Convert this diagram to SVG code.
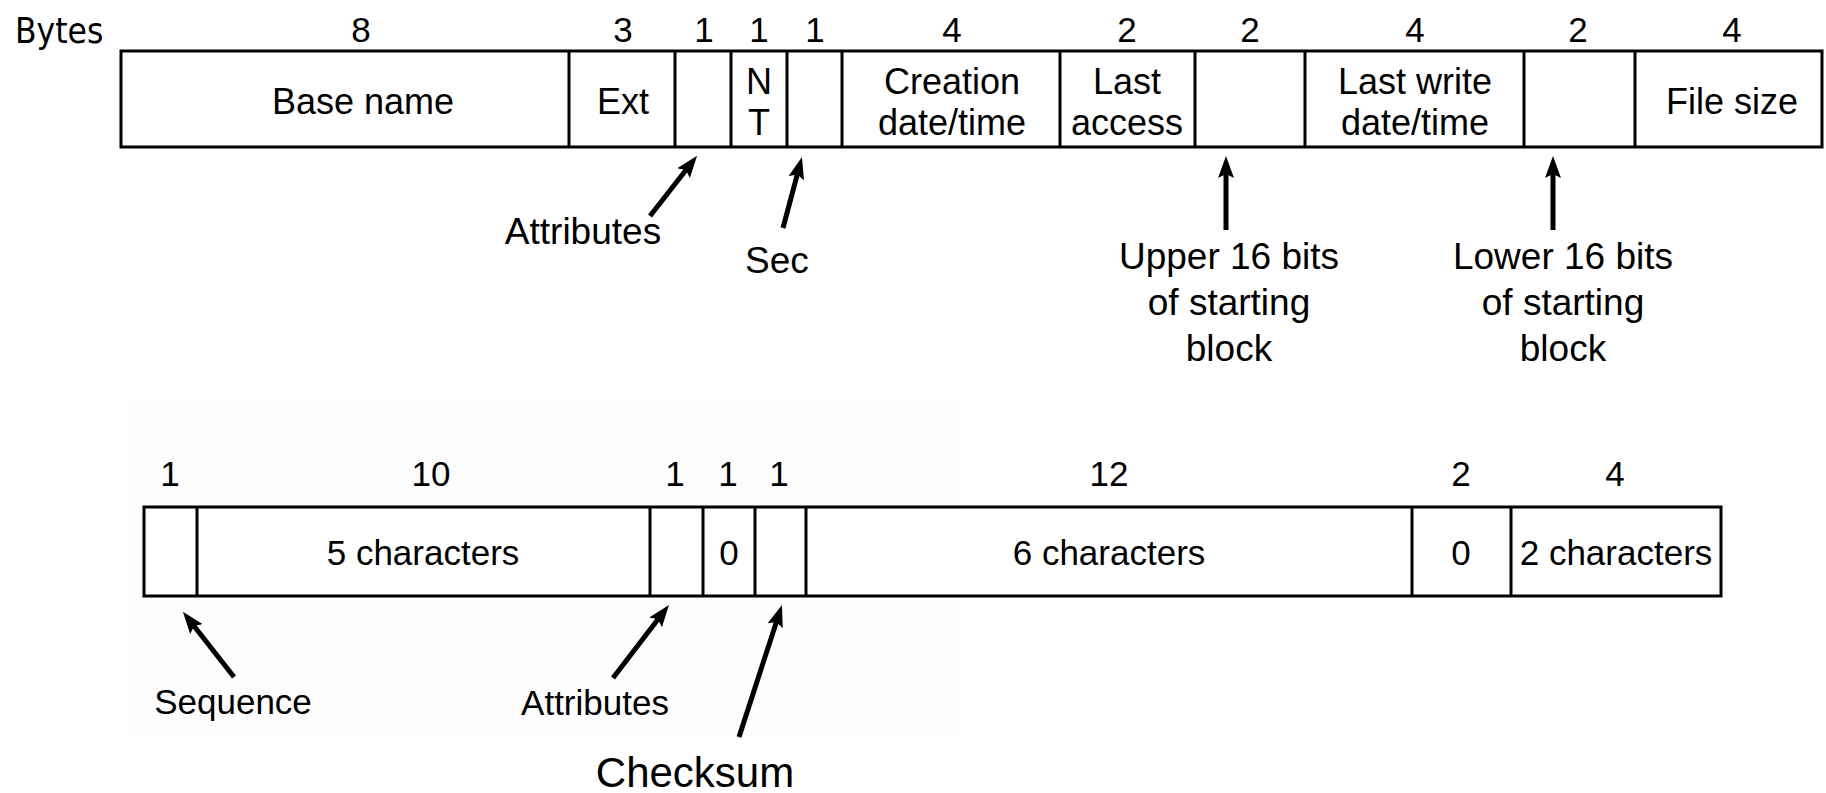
<svg xmlns="http://www.w3.org/2000/svg" width="1826" height="793" viewBox="0 0 1826 793">
  <style>
    text { font-family: "Liberation Sans", Arial, sans-serif; fill: #000; text-anchor: middle; }
    .num { font-size: 35px; }
    .cell { font-size: 36px; }
    .cell2 { font-size: 35px; }
    .lbl { font-size: 37px; }
    .lbl2 { font-size: 35px; }
    .big { font-size: 42px; }
    .bytes { font-family: "DejaVu Sans Condensed", "DejaVu Sans", sans-serif; font-stretch: condensed; font-size: 35px; text-anchor: start; }
    .box { fill: #fff; stroke: #000; stroke-width: 3; }
    .div { stroke: #000; stroke-width: 3; }
    .arrow { stroke: #000; stroke-width: 5; fill: none; marker-end: url(#ah); }
  </style>
  <defs>
    <marker id="ah" viewBox="0 0 22 16" refX="4" refY="8" markerWidth="22" markerHeight="16" orient="auto" markerUnits="userSpaceOnUse">
      <path d="M0,0 L22,8 L0,16 L4,8 z" fill="#000"/>
    </marker>
  </defs>

  <rect width="1826" height="793" fill="#fff"/>
  <!-- faint backdrop behind the long-name entry -->
  <rect x="128" y="400" width="832" height="338" fill="#fdfdfd"/>

  <!-- ===== Short (8.3) directory entry ===== -->
  <g id="short-entry">
    <text class="bytes" x="15" y="43">Bytes</text>
    <g id="short-sizes" class="num">
      <text x="361" y="42">8</text>
      <text x="623" y="42">3</text>
      <text x="704" y="42">1</text>
      <text x="759" y="42">1</text>
      <text x="815" y="42">1</text>
      <text x="952" y="42">4</text>
      <text x="1127" y="42">2</text>
      <text x="1250" y="42">2</text>
      <text x="1415" y="42">4</text>
      <text x="1578" y="42">2</text>
      <text x="1732" y="42">4</text>
    </g>
    <rect class="box" x="121" y="51" width="1701" height="96"/>
    <g id="short-dividers">
      <line class="div" x1="569" y1="51" x2="569" y2="147"/>
      <line class="div" x1="675" y1="51" x2="675" y2="147"/>
      <line class="div" x1="731" y1="51" x2="731" y2="147"/>
      <line class="div" x1="787" y1="51" x2="787" y2="147"/>
      <line class="div" x1="842" y1="51" x2="842" y2="147"/>
      <line class="div" x1="1060" y1="51" x2="1060" y2="147"/>
      <line class="div" x1="1195" y1="51" x2="1195" y2="147"/>
      <line class="div" x1="1305" y1="51" x2="1305" y2="147"/>
      <line class="div" x1="1524" y1="51" x2="1524" y2="147"/>
      <line class="div" x1="1635" y1="51" x2="1635" y2="147"/>
    </g>
    <g id="f-basename"><text class="cell" x="363" y="114">Base name</text></g>
    <g id="f-ext"><text class="cell" x="623" y="114">Ext</text></g>
    <g id="f-nt"><text class="cell" x="759" y="94">N</text><text class="cell" x="759" y="135">T</text></g>
    <g id="f-creation"><text class="cell" x="952" y="94">Creation</text><text class="cell" x="952" y="135">date/time</text></g>
    <g id="f-lastaccess"><text class="cell" x="1127" y="94">Last</text><text class="cell" x="1127" y="135">access</text></g>
    <g id="f-lastwrite"><text class="cell" x="1415" y="94">Last write</text><text class="cell" x="1415" y="135">date/time</text></g>
    <g id="f-filesize"><text class="cell" x="1732" y="114">File size</text></g>

    <g id="lbl-attributes"><text class="lbl" x="583" y="244">Attributes</text></g>
    <g id="lbl-sec"><text class="lbl" x="777" y="273">Sec</text></g>
    <g id="lbl-upper">
      <text class="lbl" x="1229" y="269">Upper 16 bits</text>
      <text class="lbl" x="1229" y="315">of starting</text>
      <text class="lbl" x="1229" y="361">block</text>
    </g>
    <g id="lbl-lower">
      <text class="lbl" x="1563" y="269">Lower 16 bits</text>
      <text class="lbl" x="1563" y="315">of starting</text>
      <text class="lbl" x="1563" y="361">block</text>
    </g>
  </g>

  <!-- ===== Long-name directory entry ===== -->
  <g id="long-entry">
    <g id="long-sizes" class="num">
      <text x="170" y="486">1</text>
      <text x="431" y="486">10</text>
      <text x="675" y="486">1</text>
      <text x="728" y="486">1</text>
      <text x="779" y="486">1</text>
      <text x="1109" y="486">12</text>
      <text x="1461" y="486">2</text>
      <text x="1615" y="486">4</text>
    </g>
    <rect class="box" x="144" y="507" width="1577" height="89"/>
    <g id="long-dividers">
      <line class="div" x1="197" y1="507" x2="197" y2="596"/>
      <line class="div" x1="650" y1="507" x2="650" y2="596"/>
      <line class="div" x1="703" y1="507" x2="703" y2="596"/>
      <line class="div" x1="755" y1="507" x2="755" y2="596"/>
      <line class="div" x1="806" y1="507" x2="806" y2="596"/>
      <line class="div" x1="1412" y1="507" x2="1412" y2="596"/>
      <line class="div" x1="1511" y1="507" x2="1511" y2="596"/>
    </g>
    <g id="f-chars5"><text class="cell2" x="423" y="565">5 characters</text></g>
    <g id="f-zero1"><text class="cell2" x="729" y="565">0</text></g>
    <g id="f-chars6"><text class="cell2" x="1109" y="565">6 characters</text></g>
    <g id="f-zero2"><text class="cell2" x="1461" y="565">0</text></g>
    <g id="f-chars2"><text class="cell2" x="1616" y="565">2 characters</text></g>

    <g id="lbl-sequence"><text class="lbl2" x="233" y="714">Sequence</text></g>
    <g id="lbl-attributes2"><text class="lbl2" x="595" y="715">Attributes</text></g>
    <g id="lbl-checksum"><text class="big" x="695" y="787">Checksum</text></g>
  </g>

  <!-- ===== Pointer arrows ===== -->
  <g id="connectors">
    <line class="arrow" x1="650" y1="216" x2="686" y2="170"/>
    <line class="arrow" x1="783" y1="228" x2="797.3" y2="174.4"/>
    <line class="arrow" x1="1226" y1="230" x2="1226" y2="174"/>
    <line class="arrow" x1="1553" y1="230" x2="1553" y2="174"/>
    <line class="arrow" x1="234" y1="677" x2="194" y2="626"/>
    <line class="arrow" x1="613" y1="678" x2="658" y2="619.3"/>
    <line class="arrow" x1="739" y1="737" x2="776.4" y2="622"/>
  </g>
</svg>
